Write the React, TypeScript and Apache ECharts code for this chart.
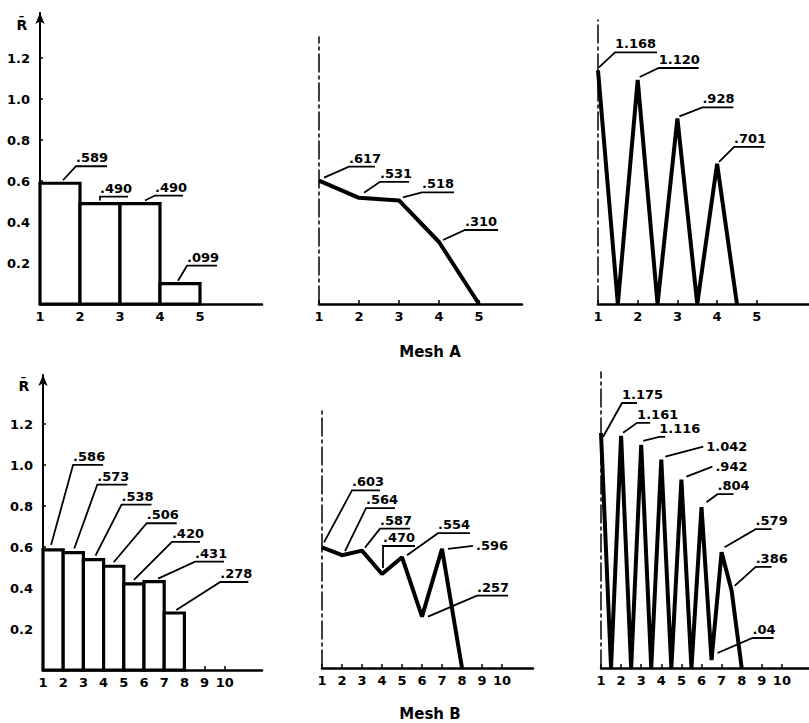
import React, { useEffect, useRef } from 'react';
import * as echarts from 'echarts';

const FONT = '"DejaVu Sans", sans-serif';

// ---------------- Mesh A ----------------
const A_BAR_EDGES = [1, 2, 3, 4, 5];
const A_BAR_VALUES = [0.589, 0.49, 0.49, 0.099];
const A_BAR_LABELS = ['.589', '.490', '.490', '.099'];

const A_MID_X = [1, 2, 3, 4, 5];
const A_MID_Y = [0.617, 0.531, 0.518, 0.31, 0];
const A_MID_LABEL_IDX = [0, 1, 2, 3];
const A_MID_LABELS = ['.617', '.531', '.518', '.310'];

const A_RIGHT_X = [1, 1.5, 2, 2.5, 3, 3.5, 4, 4.5];
const A_RIGHT_Y = [1.168, 0, 1.12, 0, 0.928, 0, 0.701, 0];
const A_RIGHT_LABEL_IDX = [0, 2, 4, 6];
const A_RIGHT_LABELS = ['1.168', '1.120', '.928', '.701'];

const A_X_TICKS = [1, 2, 3, 4, 5];

// ---------------- Mesh B ----------------
const B_BAR_EDGES = [1, 2, 3, 4, 5, 6, 7, 8];
const B_BAR_VALUES = [0.586, 0.573, 0.538, 0.506, 0.42, 0.431, 0.278];
const B_BAR_LABELS = ['.586', '.573', '.538', '.506', '.420', '.431', '.278'];

const B_MID_X = [1, 2, 3, 4, 5, 6, 7, 8];
const B_MID_Y = [0.603, 0.564, 0.587, 0.47, 0.554, 0.257, 0.596, 0];
const B_MID_LABEL_IDX = [0, 1, 2, 3, 4, 5, 6];
const B_MID_LABELS = ['.603', '.564', '.587', '.470', '.554', '.257', '.596'];

const B_RIGHT_X = [1, 1.5, 2, 2.5, 3, 3.5, 4, 4.5, 5, 5.5, 6, 6.5, 7, 7.5, 8];
const B_RIGHT_Y = [1.175, 0, 1.161, 0, 1.116, 0, 1.042, 0, 0.942, 0, 0.804, 0.04, 0.579, 0.386, 0];
const B_RIGHT_LABEL_IDX = [0, 2, 4, 6, 8, 10, 12, 13, 11];
const B_RIGHT_LABELS = ['1.175', '1.161', '1.116', '1.042', '.942', '.804', '.579', '.386', '.04'];

const B_X_TICKS = [1, 2, 3, 4, 5, 6, 7, 8, 9, 10];
const Y_TICKS = [0.2, 0.4, 0.6, 0.8, 1.0, 1.2];

// ---------------- Layout (pixels): leader start dx,dy ; leader end dx,dy ; underline length ; side label ----------------
const L_A_BAR = [
  [3, -3, 16, -17, 31, 0],
  [0, -3, 0, -7, 28, 0],
  [5, -3, 15, -8, 28, 0],
  [-2, -3, 7, -18, 30, 0],
];
const L_A_MID = [
  [5, -3, 30, -14, 26, 0],
  [5, -5, 21, -16, 29, 0],
  [4, -3, 23, -8, 32, 0],
  [4, -2, 26, -12, 33, 0],
];
const L_A_RIGHT = [
  [1, -3, 17, -18, 42, 0],
  [2, -3, 21, -12, 40, 0],
  [2, -2, 25, -11, 31, 0],
  [2, -2, 17, -17, 30, 0],
];
const L_B_BAR = [
  [-2, -5, 20, -85, 30, 0],
  [1, -4, 24, -68, 30, 0],
  [2, -4, 28, -55, 30, 0],
  [0, -4, 33, -43, 30, 0],
  [0, -4, 38, -42, 28, 0],
  [4, -3, 41, -20, 29, 0],
  [2, -3, 46, -31, 28, 0],
];
const L_B_MID = [
  [2, -5, 30, -57, 28, 0],
  [3, -4, 24, -47, 29, 0],
  [3, -3, 18, -22, 30, 0],
  [1, -6, 1, -28, 32, 0],
  [5, -2, 36, -24, 32, 0],
  [6, 0, 55, -21, 31, 0],
  [6, 0, 31, -3, 0, 1],
];
const L_B_RIGHT = [
  [2, 4, 21, -30, 15, 0],
  [2, -3, 16, -13, 13, 0],
  [2, -4, 18, -8, 6, 0],
  [4, -3, 42, -13, 0, 1],
  [5, -3, 31, -13, 0, 1],
  [5, -5, 16, -13, 16, 0],
  [3, -5, 34, -23, 16, 0],
  [3, -5, 24, -24, 16, 0],
  [6, -7, 41, -22, 21, 0],
];

// panels: grid rectangle and pixel-per-unit scales
const PANELS = [
  { left: 40, top: 13, width: 222, height: 291, pxX: 40, pxY: 205, yLabels: true, ticks: A_X_TICKS },
  { left: 319, top: 37, width: 203, height: 267, pxX: 40, pxY: 200, yLabels: false, ticks: A_X_TICKS },
  { left: 598, top: 20, width: 211, height: 284, pxX: 39.7, pxY: 200, yLabels: false, ticks: A_X_TICKS },
  { left: 43, top: 375, width: 219, height: 295, pxX: 20.2, pxY: 205, yLabels: true, ticks: B_X_TICKS },
  { left: 322, top: 407, width: 211, height: 261, pxX: 20, pxY: 200, yLabels: false, ticks: B_X_TICKS },
  { left: 601, top: 372, width: 208, height: 296, pxX: 20.1, pxY: 200, yLabels: false, ticks: B_X_TICKS },
];

function barSeries(gi: number, edges: number[], values: number[]) {
  return {
    type: 'custom',
    xAxisIndex: gi,
    yAxisIndex: gi,
    clip: false,
    z: 3,
    data: values.map((v, i) => [edges[i], edges[i + 1], v]),
    encode: { x: [0, 1], y: 2 },
    renderItem: (_p: any, api: any) => {
      const a = api.coord([api.value(0), api.value(2)]);
      const b = api.coord([api.value(1), 0]);
      return {
        type: 'rect',
        shape: { x: a[0], y: a[1], width: b[0] - a[0], height: b[1] - a[1] },
        style: { fill: '#fff', stroke: '#000', lineWidth: 3.2 },
      };
    },
  };
}

function lineSeries(gi: number, xs: number[], ys: number[]) {
  return {
    type: 'line',
    xAxisIndex: gi,
    yAxisIndex: gi,
    clip: false,
    z: 3,
    symbol: 'none',
    data: xs.map((x, i) => [x, ys[i]]),
    lineStyle: { color: '#000', width: 4 },
  };
}

function annotationSeries(gi: number, pts: number[][], labels: string[], layout: number[][]) {
  return {
    type: 'custom',
    xAxisIndex: gi,
    yAxisIndex: gi,
    clip: false,
    z: 5,
    data: pts.map((p, k) => [p[0], p[1], k]),
    encode: { x: 0, y: 1 },
    renderItem: (_p: any, api: any) => {
      const k = api.value(2);
      const p = api.coord([api.value(0), api.value(1)]);
      const [sx, sy, ex, ey, L, side] = layout[k];
      const x0 = p[0] + sx, y0 = p[1] + sy, x1 = p[0] + ex, y1 = p[1] + ey;
      const points: number[][] = [[x0, y0], [x1, y1]];
      if (L > 0) points.push([x1 + L, y1]);
      return {
        type: 'group',
        children: [
          { type: 'polyline', shape: { points }, style: { stroke: '#000', lineWidth: 1.8, fill: 'none' } },
          {
            type: 'text',
            x: side ? x1 + 3 : x1,
            y: side ? y1 : y1 - 2,
            style: {
              text: labels[k],
              fill: '#000',
              fontFamily: FONT,
              fontSize: 13,
              fontWeight: 'bold',
              align: 'left',
              verticalAlign: side ? 'middle' : 'bottom',
            },
          },
        ],
      };
    },
  };
}

export default function App() {
  const ref = useRef<HTMLDivElement>(null);
  useEffect(() => {
    if (!ref.current) return;
    const chart = echarts.init(ref.current, undefined, { renderer: 'svg' });

    const grid = PANELS.map((p) => ({ left: p.left, top: p.top, width: p.width, height: p.height, containLabel: false }));
    const xAxis = PANELS.map((p, i) => ({
      type: 'value',
      gridIndex: i,
      min: 1,
      max: 1 + p.width / p.pxX,
      interval: 1,
      splitLine: { show: false },
      axisLine: { show: true, onZero: false, lineStyle: { color: '#000', width: 2.5 } },
      axisTick: { show: true, inside: true, length: 4, customValues: p.ticks, lineStyle: { color: '#000', width: 1.5 } },
      axisLabel: {
        show: true,
        customValues: p.ticks,
        color: '#000',
        fontFamily: FONT,
        fontSize: 13,
        fontWeight: 'bold',
        margin: 6,
        formatter: (v: number) => (p.ticks.indexOf(v) >= 0 ? String(v) : ''),
      },
    }));
    const yAxis = PANELS.map((p, i) => ({
      type: 'value',
      gridIndex: i,
      min: 0,
      max: p.height / p.pxY,
      interval: 0.2,
      splitLine: { show: false },
      axisLine: p.yLabels
        ? { show: true, onZero: false, symbol: ['none', 'arrow'], symbolSize: [7, 11], lineStyle: { color: '#000', width: 2 } }
        : { show: true, onZero: false, lineStyle: { color: '#000', width: 1.5, type: [18, 4, 3, 4] } },
      axisTick: p.yLabels
        ? { show: true, inside: true, length: 3, customValues: Y_TICKS, lineStyle: { color: '#000', width: 1.5 } }
        : { show: false },
      axisLabel: p.yLabels
        ? {
            show: true,
            customValues: Y_TICKS,
            color: '#000',
            fontFamily: FONT,
            fontSize: 13,
            fontWeight: 'bold',
            margin: 10,
            formatter: (v: number) => (v > 0.1 && v < 1.3 ? v.toFixed(1) : ''),
          }
        : { show: false },
    }));

    const barMid = (edges: number[], vals: number[]) => vals.map((v, i) => [(edges[i] + edges[i + 1]) / 2, v]);
    const pick = (xs: number[], ys: number[], idx: number[]) => idx.map((i) => [xs[i], ys[i]]);

    const series: any[] = [
      barSeries(0, A_BAR_EDGES, A_BAR_VALUES),
      annotationSeries(0, barMid(A_BAR_EDGES, A_BAR_VALUES), A_BAR_LABELS, L_A_BAR),
      lineSeries(1, A_MID_X, A_MID_Y),
      annotationSeries(1, pick(A_MID_X, A_MID_Y, A_MID_LABEL_IDX), A_MID_LABELS, L_A_MID),
      lineSeries(2, A_RIGHT_X, A_RIGHT_Y),
      annotationSeries(2, pick(A_RIGHT_X, A_RIGHT_Y, A_RIGHT_LABEL_IDX), A_RIGHT_LABELS, L_A_RIGHT),
      barSeries(3, B_BAR_EDGES, B_BAR_VALUES),
      annotationSeries(3, barMid(B_BAR_EDGES, B_BAR_VALUES), B_BAR_LABELS, L_B_BAR),
      lineSeries(4, B_MID_X, B_MID_Y),
      annotationSeries(4, pick(B_MID_X, B_MID_Y, B_MID_LABEL_IDX), B_MID_LABELS, L_B_MID),
      lineSeries(5, B_RIGHT_X, B_RIGHT_Y),
      annotationSeries(5, pick(B_RIGHT_X, B_RIGHT_Y, B_RIGHT_LABEL_IDX), B_RIGHT_LABELS, L_B_RIGHT),
    ];

    const textStyle = (t: string, size: number, weight: string) => ({
      text: t,
      fill: '#000',
      fontFamily: FONT,
      fontSize: size,
      fontWeight: weight,
      align: 'center',
      verticalAlign: 'middle',
    });

    chart.setOption({
      animation: false,
      backgroundColor: '#fff',
      grid,
      xAxis,
      yAxis,
      series,
      graphic: [
        { type: 'text', x: 22, y: 25, style: textStyle('R\u0304', 14, 'bold') },
        { type: 'text', x: 24, y: 386, style: textStyle('R\u0304', 14, 'bold') },
        { type: 'text', x: 430, y: 352, style: textStyle('Mesh A', 15, 'bold') },
        { type: 'text', x: 430, y: 714, style: textStyle('Mesh B', 15, 'bold') },
      ],
    });
    return () => chart.dispose();
  }, []);
  return <div ref={ref} style={{ position: 'fixed', left: 0, top: 0, width: 809, height: 723, background: '#fff' }} />;
}
